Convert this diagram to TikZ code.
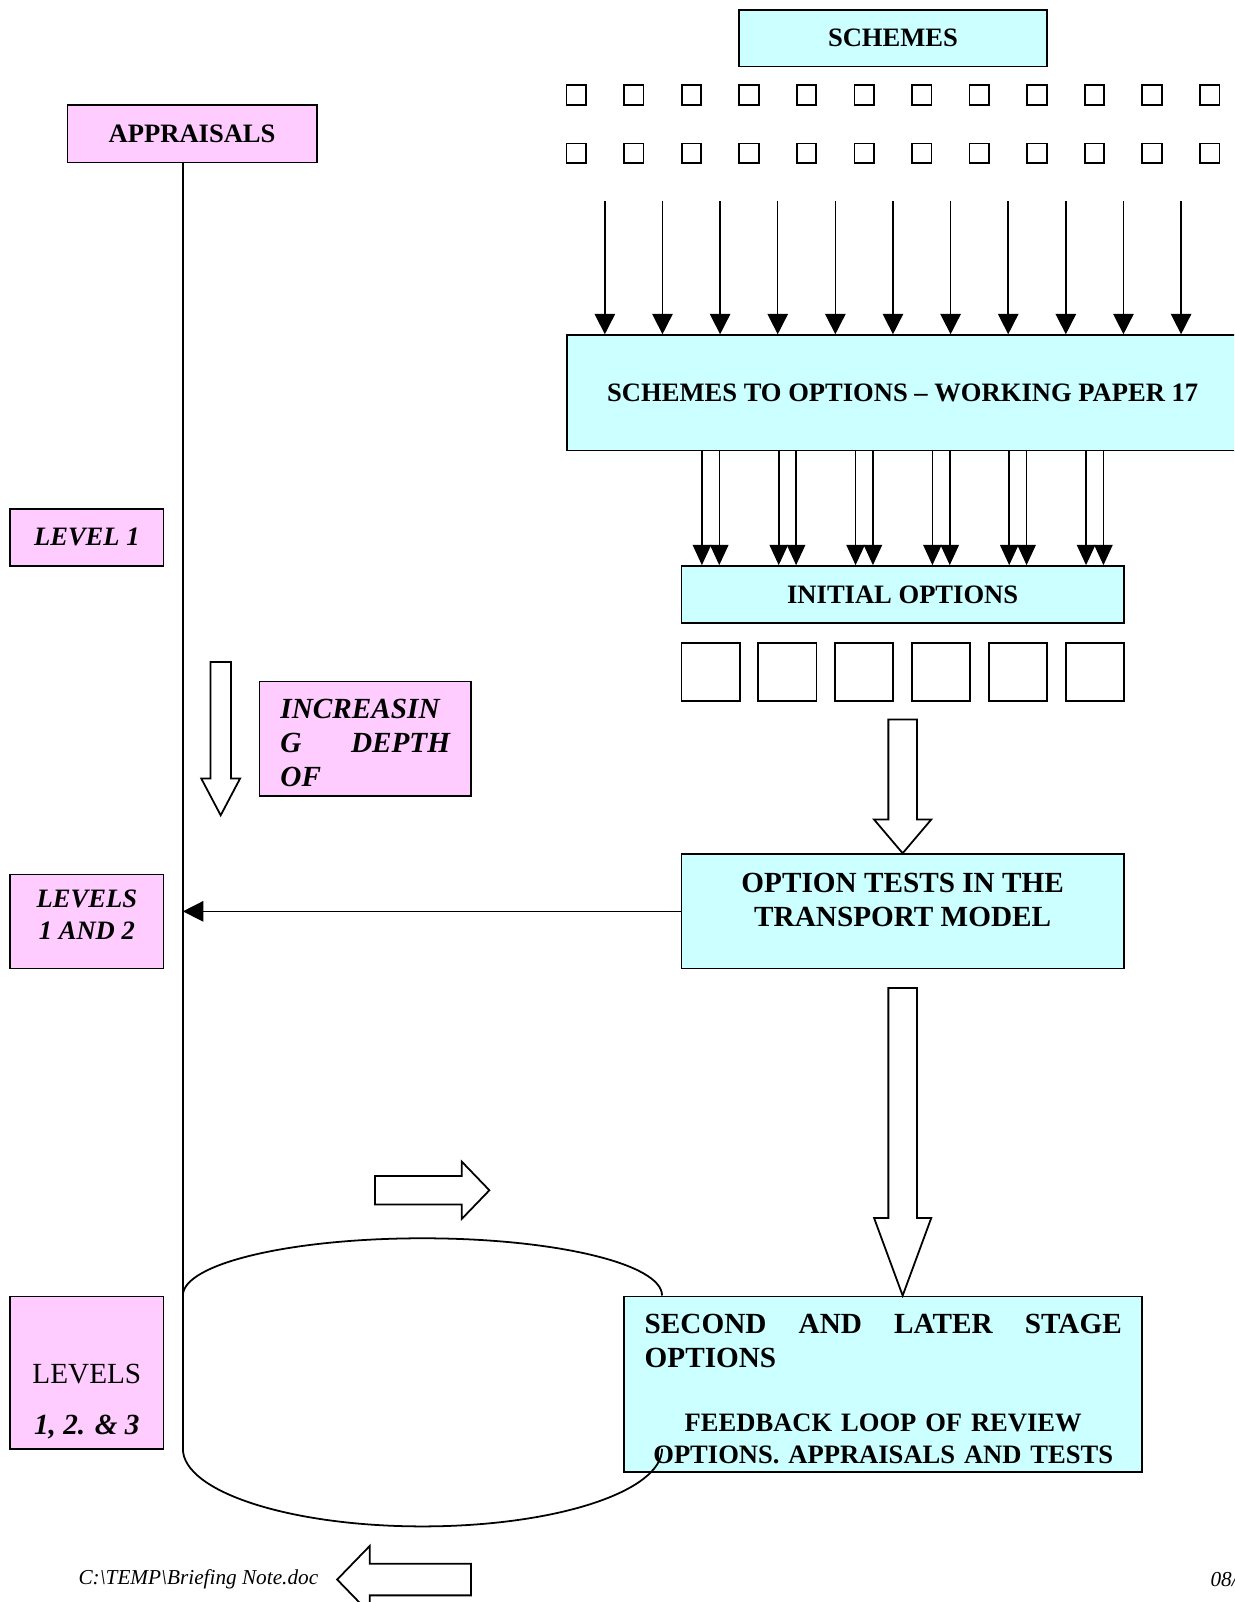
\documentclass[tikz,border=0pt]{standalone}
\usepackage{fontspec}
\setmainfont{Liberation Serif}
\usetikzlibrary{arrows.meta,positioning,calc}
\definecolor{schemecyan}{HTML}{CCFFFF}
\definecolor{levelpink}{HTML}{FFCCFF}
\newcommand{\boxfont}{\fontsize{12}{14.3}\selectfont}
\newcommand{\bigfont}{\fontsize{13.2}{15.2}\selectfont}
\tikzset{
    box/.style = {draw, fill=schemecyan, inner sep=0pt, font=\bfseries\boxfont},
    level/.style = {draw, fill=levelpink, inner sep=0pt, font=\bfseries\itshape\boxfont},
    scheme/.style = {draw, minimum size=8.8pt, inner sep=0pt},
    option/.style = {draw, minimum size=26.3pt, inner sep=0pt},
    flow/.style = {-{Triangle[length=9.2pt,width=9.2pt]}, line width=0.7pt},
    twin/.style = {-{Triangle[length=9.2pt,width=8.3pt]}, line width=0.7pt},
    hollow/.style = {draw, fill=white, line join=miter}
}

\begin{document}
\begin{tikzpicture}[x=0.4615pt, y=-0.4615pt, line width=0.8pt]
    \useasboundingbox (0,0) rectangle (1208,1568);
    \clip (0,0) rectangle (1208,1568);
    % Schemes and the two rows of small boxes
    \node[box, minimum width=139.4pt, minimum height=25.4pt] (schemes) at (874,37.5) {SCHEMES};
    \foreach \i in {0,...,11} {
        \node[scheme] (top\i) at (564+56.36*\i,93) {};
        \node[scheme] (bot\i) at (564+56.36*\i,150) {};
    }
    \node[box, minimum width=303.2pt, minimum height=52.1pt] (wide) at (883.5,384.5) {SCHEMES TO OPTIONS -- WORKING PAPER 17};
    \foreach \i in {0,...,10} {
        \coordinate (feed\i) at (592+56.4*\i,197);
        \draw[flow] (feed\i) -- (feed\i |- wide.north);
    }
    % Initial options
    \node[box, minimum width=199.8pt, minimum height=25.8pt] (initial) at (883.5,582) {INITIAL OPTIONS};
    \foreach \i in {0,...,5} {
        \node[option] (opt\i) at (695.5+75.2*\i,657.5) {};
        \coordinate (pl\i) at (687+75.2*\i,0);
        \coordinate (pr\i) at (704+75.2*\i,0);
        \draw[twin] (pl\i |- wide.south) -- (pl\i |- initial.north);
        \draw[twin] (pr\i |- wide.south) -- (pr\i |- initial.north);
    }
    % Tests and later stages
    \node[box, minimum width=199.8pt, minimum height=51.7pt, align=center, font=\bfseries\bigfont, text height=30pt, text depth=16.7pt] (tests) at (883.5,892) {OPTION TESTS IN THE\\TRANSPORT MODEL};
    \node[box, minimum width=234pt, minimum height=79.4pt, text width=215.5pt, align=left, text height=10pt, text depth=55.7pt] (second) at (864.5,1355) {{\bigfont SECOND\hfill AND\hfill LATER\hfill STAGE\\OPTIONS\par}\vspace{14.8pt}{\centering FEEDBACK LOOP OF REVIEW\\OPTIONS. APPRAISALS AND TESTS\par}};
    \draw[hollow] (tests.north) -- ++(-28,-33) -- ++(14,0) -- ++(0,-98) -- ++(28,0) -- ++(0,98) -- ++(14,0) -- cycle;
    \draw[hollow] (tests.south |- second.north) -- ++(-28,-76) -- ++(14,0) -- ++(0,-225) -- ++(28,0) -- ++(0,225) -- ++(14,0) -- cycle;
    % Appraisals and levels
    \node[level, font=\bfseries\boxfont, minimum width=112.6pt, minimum height=25.8pt] (appraisals) at (188,131) {APPRAISALS};
    \node[level, minimum width=69.2pt, minimum height=25.8pt] (level1) at (85,526) {LEVEL 1};
    \node[level, minimum width=95.5pt, minimum height=51.7pt, text width=76.6pt, align=left, font=\bfseries\itshape\bigfont, text height=10pt, text depth=28pt] (depth) at (357.5,723) {INCREASIN\\G\hfill DEPTH\\OF};
    \node[level, minimum width=69.2pt, minimum height=42.5pt, align=center, text height=25pt, text depth=8.9pt] (level12) at (85,902) {LEVELS\\1 AND 2};
    \node[level, minimum width=69.2pt, minimum height=68.8pt, align=center, font=\bigfont, text height=60pt, text depth=3.8pt] (level123) at (85,1343.5) {LEVELS\\[7.8pt]\textbf{\textit{1, 2. \& 3}}};
    \coordinate (spine) at (179,1418);
    \draw[line width=0.6pt] (appraisals.south -| spine) -- (spine);
    \draw[flow] (tests.west) -- (tests.west -| spine);
    \draw[hollow] (216,798) -- ++(-19,-36) -- ++(9,0) -- ++(0,-114) -- ++(20,0) -- ++(0,114) -- ++(9,0) -- cycle;
    % Feedback loop
    \draw[hollow] (479,1165) -- ++(-27,-28) -- ++(0,14) -- ++(-85,0) -- ++(0,28) -- ++(85,0) -- ++(0,14) -- cycle;
    \draw (179,1268) .. controls (179,1237) and (284,1212) .. (413.5,1212) .. controls (543,1212) and (648,1237) .. (648,1268);
    \draw (spine) .. controls (179,1460) and (284,1494) .. (413.5,1494) .. controls (543,1494) and (648,1460) .. (648,1418);
    \draw[hollow] (330,1546) -- ++(32,-33) -- ++(0,17.5) -- ++(99,0) -- ++(0,31) -- ++(-99,0) -- ++(0,17.5) -- cycle;
    % Footer
    \node[anchor=west, inner sep=0pt, font=\itshape\fontsize{9.6}{11}\selectfont] (file) at (76,1546) {C:\textbackslash TEMP\textbackslash Briefing Note.doc};
    \node[anchor=west, inner sep=0pt, font=\itshape\fontsize{9.6}{11}\selectfont] (date) at (1184,1546) {08/};
\end{tikzpicture}
\end{document}
